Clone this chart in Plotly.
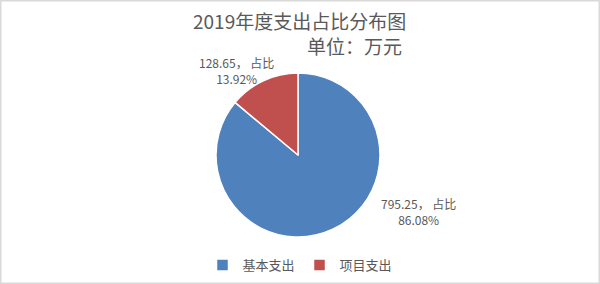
import plotly.graph_objects as go

categories = ["基本支出", "项目支出"]
amounts = [795.25, 128.65]
percents = [86.08, 13.92]
colors = ["#4F81BD", "#C0504D"]
title_text = "2019年度支出占比分布图"
unit_text = "单位：万元"

W, H = 600, 284
cx, cy, r = 298, 155, 82

FONT = "Noto Sans CJK SC, Noto Sans, sans-serif"
GREY = "#595959"

fig = go.Figure()
fig.add_trace(go.Pie(
    labels=categories,
    values=amounts,
    sort=False,
    direction="clockwise",
    rotation=0,
    textinfo="none",
    marker=dict(colors=colors, line=dict(color="white", width=1.5)),
    domain=dict(x=[(cx - r) / W, (cx + r) / W], y=[1 - (cy + r) / H, 1 - (cy - r) / H]),
    hovertemplate="%{label}: %{value}<extra></extra>",
))

def px(x):
    return x / W

def py(y):
    return 1 - y / H

annotations = [
    dict(text=title_text, x=px(299), y=py(20), font=dict(size=19, color=GREY, family=FONT)),
    dict(text=unit_text, x=px(354), y=py(45), font=dict(size=19, color=GREY, family=FONT)),
]
label_pos = [(418, 211), (236, 70)]
for amt, pct, (lx, ly) in zip(amounts, percents, label_pos):
    annotations.append(dict(
        text=f"{amt:.2f}， 占比<br>{pct:.2f}%",
        x=px(lx), y=py(ly),
        font=dict(size=12, color=GREY, family=FONT),
    ))
for a in annotations:
    a.update(xref="paper", yref="paper", showarrow=False, xanchor="center", yanchor="middle")

fig.update_layout(
    width=W, height=H,
    margin=dict(l=0, r=0, t=0, b=0),
    paper_bgcolor="white",
    plot_bgcolor="white",
    annotations=annotations,
    showlegend=True,
    legend=dict(
        orientation="h", x=0.5, xanchor="center", y=py(265), yanchor="middle",
        font=dict(size=13, color=GREY, family=FONT),
        itemwidth=30,
    ),
    shapes=[dict(type="rect", xref="paper", yref="paper", x0=0, y0=0, x1=1, y1=1,
                 line=dict(color="#D9D9D9", width=3))],
)

fig.write_html("out.html")
